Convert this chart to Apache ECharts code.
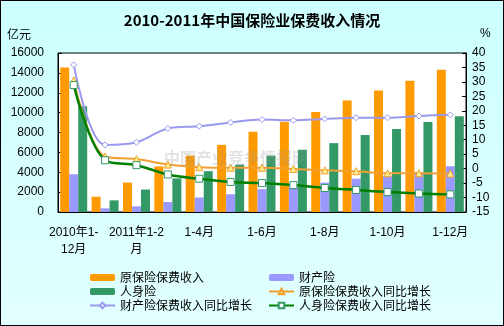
<!DOCTYPE html>
<html><head><meta charset="utf-8">
<script src="https://cdn.jsdelivr.net/npm/echarts@6/dist/echarts.min.js"></script>
<style>html,body{margin:0;padding:0;}#c{width:502px;height:324px;border:1px solid #000;}</style>
</head><body><div id="c"></div>
<script>
const categories = ['2010年1-12月','2011年1月','2011年1-2月','1-3月','1-4月','1-5月','1-6月','1-7月','1-8月','1-9月','1-10月','1-11月','1-12月'];
const totalPremium = [14530, 1540, 2960, 4590, 5670, 6760, 8080, 9080, 10070, 11230, 12230, 13220, 14310];
const propertyPremium = [3800, 370, 570, 1000, 1460, 1790, 2290, 2490, 2950, 3350, 3610, 4010, 4600];
const lifePremium = [10640, 1170, 2260, 3380, 4110, 4770, 5670, 6260, 6930, 7750, 8350, 9050, 9640];
const totalGrowth = [30.6, 4.2, 3.3, 1.4, 0.5, 0.3, 0.3, -0.1, -0.6, -0.9, -1.6, -1.6, -1.7];
const propertyGrowth = [35.9, 8.2, 9.1, 13.9, 14.7, 16.0, 17.0, 16.7, 17.2, 17.6, 17.6, 18.2, 18.6];
const lifeGrowth = [28.9, 2.9, 1.2, -2.0, -3.5, -4.6, -5.0, -5.7, -6.7, -7.4, -8.1, -8.6, -8.9];
const leftTicks = {min: 0, max: 16000, interval: 2000};
const rightTicks = {min: -15, max: 40, interval: 5};
const labelBreaks = {'2010年1-12月': '2010年1-\n12月', '2011年1-2月': '2011年1-2\n月'};

const FONT = "'Liberation Sans', 'Noto Sans CJK SC', sans-serif";
const LEG_TEXT = {fontSize: 12, color: '#000', lineHeight: 13, fontFamily: "'Noto Sans CJK SC', sans-serif"};
const chart = echarts.init(document.getElementById('c'));
chart.setOption({
  backgroundColor: {type: 'linear', x: 0, y: 0, x2: 0, y2: 1, colorStops: [{offset: 0, color: '#CCFFFF'}, {offset: 1, color: '#E2FFFF'}]},
  animation: false,
  textStyle: {fontFamily: FONT},
  title: {text: '2010-2011年中国保险业保费收入情况', left: 'center', top: 7,
    textStyle: {fontSize: 15, fontWeight: 'bold', color: '#000', fontFamily: "'Noto Sans CJK SC', sans-serif"}},
  graphic: [
    {type: 'text', left: 6, top: 27, style: {text: '亿元', font: "12px 'Noto Sans CJK SC'", fill: '#000'}},
    {type: 'text', left: 479, top: 27, style: {text: '%', font: "12px 'Liberation Sans'", fill: '#000'}},
    {type: 'text', left: 163, top: 149, z: 10, style: {text: '中国产业竞争情报网', font: "bold 16px 'Noto Sans CJK SC'", fill: 'rgba(150,150,150,0.28)'}}
  ],
  grid: {left: 57, right: 37, top: 52, bottom: 113, show: true, backgroundColor: '#fff', borderColor: '#000', borderWidth: 1},
  legend: [
    {orient: 'vertical', left: 88, top: 270, height: 60, padding: 0, itemWidth: 25, itemHeight: 7, itemGap: 1,
      textStyle: LEG_TEXT, data: ['原保险保费收入', '人身险', '财产险保费收入同比增长']},
    {orient: 'vertical', left: 267, top: 270, height: 60, padding: 0, itemWidth: 25, itemHeight: 7, itemGap: 1,
      textStyle: LEG_TEXT, data: ['财产险', '原保险保费收入同比增长', '人身险保费收入同比增长']}
  ],
  xAxis: {
    type: 'category', data: categories,
    axisLine: {lineStyle: {color: '#000'}},
    axisTick: {inside: true, length: 4, lineStyle: {color: '#000'}},
    axisLabel: {interval: 1, color: '#000', fontSize: 12, margin: 12, lineHeight: 17,
      formatter: v => labelBreaks[v] || v}
  },
  yAxis: [
    {type: 'value', min: leftTicks.min, max: leftTicks.max, interval: leftTicks.interval,
      splitLine: {show: false},
      axisLine: {show: true, lineStyle: {color: '#000'}},
      axisTick: {show: true, inside: true, length: 4, lineStyle: {color: '#000'}},
      axisLabel: {color: '#000', fontSize: 12, margin: 14, formatter: v => String(v)}},
    {type: 'value', min: rightTicks.min, max: rightTicks.max, interval: rightTicks.interval,
      splitLine: {show: false},
      axisLine: {show: true, lineStyle: {color: '#000'}},
      axisTick: {show: true, inside: true, length: 4, lineStyle: {color: '#000'}},
      axisLabel: {color: '#000', fontSize: 12, margin: 6, formatter: v => String(v)}}
  ],
  series: [
    {name: '原保险保费收入', type: 'bar', data: totalPremium, barWidth: 9, barGap: '0%', itemStyle: {color: '#FF9900'}},
    {name: '财产险', type: 'bar', data: propertyPremium, barWidth: 9, barGap: '0%', itemStyle: {color: '#9999FF'}},
    {name: '人身险', type: 'bar', data: lifePremium, barWidth: 9, barGap: '0%', itemStyle: {color: '#339966'}},
    {name: '原保险保费收入同比增长', type: 'line', yAxisIndex: 1, data: totalGrowth, smooth: 0.35,
      symbol: 'triangle', symbolSize: 7, lineStyle: {color: '#F0A030', width: 2},
      itemStyle: {color: '#FFEE88', borderColor: '#F0A030', borderWidth: 1}},
    {name: '财产险保费收入同比增长', type: 'line', yAxisIndex: 1, data: propertyGrowth, smooth: 0.35,
      symbol: 'diamond', symbolSize: 6, lineStyle: {color: '#9999EE', width: 2},
      itemStyle: {color: '#ffffff', borderColor: '#9999EE', borderWidth: 1}},
    {name: '人身险保费收入同比增长', type: 'line', yAxisIndex: 1, data: lifeGrowth, smooth: 0.35,
      symbol: 'rect', symbolSize: 7, lineStyle: {color: '#008000', width: 2.5},
      itemStyle: {color: '#ffffff', borderColor: '#339966', borderWidth: 1}}
  ]
});
</script></body></html>
